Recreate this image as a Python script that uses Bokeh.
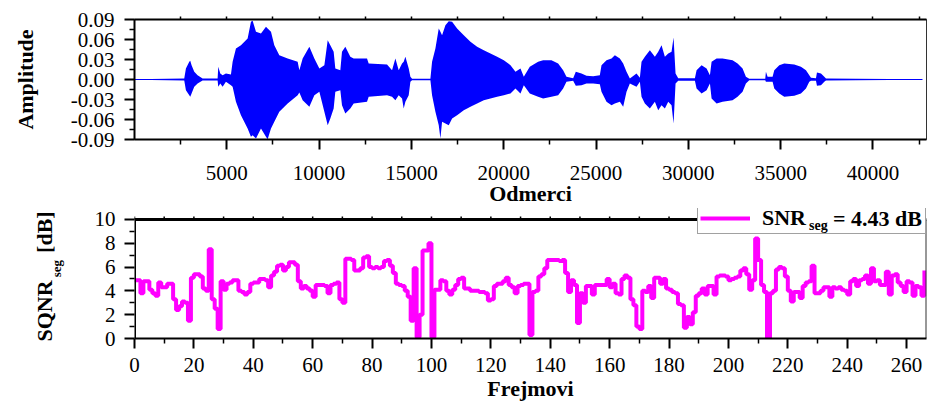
from bokeh.plotting import figure
from bokeh.layouts import column
from bokeh.models import (FixedTicker, LinearAxis, PrintfTickFormatter, Range1d,
                          Legend, LegendItem, ColumnDataSource, Title)
from bokeh.embed import file_html
from bokeh.resources import INLINE

FONT = "Liberation Serif"

# ---------------- data: speech waveform envelope (samples, amplitude) ----------------
env_samples = [0, 2695, 2785, 2966, 3020, 3092, 3237, 3417, 3688, 4502,
               4538, 4646, 4773, 4953, 5224, 5315, 5495, 5766, 6128, 6308,
               6399, 6580, 6851, 7122, 7212, 7393, 7573, 7844, 8296, 8838,
               8929, 9109, 9471, 9742, 10013, 10284, 10465, 10607, 10788, 10878,
               11149, 11239, 11420, 11691, 11872, 12595, 12685, 13679, 13950, 14131,
               14311, 14492, 14582, 14673, 14854, 14944, 15034, 16028, 16118, 16299,
               16480, 16570, 16660, 16841, 17022, 17203, 17474, 17835, 18197, 18558,
               18919, 19281, 19642, 20004, 20365, 20636, 20907, 21088, 21411, 21862,
               22134, 22585, 22947, 23218, 23398, 23760, 23904, 24212, 24483, 24844,
               25205, 25296, 25567, 25838, 26019, 26290, 26470, 26651, 26832, 27193,
               27374, 27464, 27645, 27916, 28187, 28368, 28548, 28729, 28910, 29090,
               29199, 29307, 29452, 30355, 30446, 30717, 30988, 31169, 31259, 31530,
               31853, 32395, 32666, 32937, 33118, 33299, 34166, 34202, 34292, 34563,
               34654, 34925, 35196, 35738, 36099, 36371, 36551, 36642, 36913, 36967,
               37184, 37364, 37455, 39081, 42677]
env_upper = [0.0005, 0.0015, 0.0165, 0.0265, 0.028, 0.0215, 0.0115, 0.0065, 0.0015, 0.0015,
             0.019, 0.009, 0.0065, 0.009, 0.0075, 0.0265, 0.0465, 0.0515, 0.0615, 0.0865,
             0.088, 0.0715, 0.069, 0.079, 0.0765, 0.0715, 0.0515, 0.0365, 0.0315, 0.0265,
             0.014, 0.0315, 0.049, 0.0315, 0.0165, 0.0215, 0.059, 0.0515, 0.0415, 0.0165,
             0.014, 0.0415, 0.049, 0.034, 0.0315, 0.0315, 0.024, 0.0225, 0.014, 0.0315,
             0.014, 0.024, 0.0265, 0.034, 0.0165, 0.004, 0.001, 0.001, 0.0265, 0.0465,
             0.0765, 0.0715, 0.0665, 0.0815, 0.0875, 0.0865, 0.0765, 0.0665, 0.0565, 0.049,
             0.044, 0.039, 0.034, 0.029, 0.0215, 0.0115, 0.0165, 0.004, 0.019, 0.0265,
             0.029, 0.029, 0.024, 0.014, 0.004, 0.002, 0.0115, 0.009, 0.0055, 0.005,
             0.0065, 0.0215, 0.029, 0.0315, 0.0365, 0.0315, 0.024, 0.0115, 0.0015, 0.009,
             0.0025, 0.0265, 0.034, 0.044, 0.034, 0.0415, 0.0515, 0.034, 0.039, 0.0415,
             0.063, 0.009, 0.002, 0.002, 0.014, 0.0215, 0.0165, 0.0065, 0.0265, 0.0315,
             0.0315, 0.029, 0.024, 0.0165, 0.004, 0.001, 0.001, 0.0115, 0.004, 0.004,
             0.014, 0.0215, 0.024, 0.0225, 0.019, 0.014, 0.0065, 0.0025, 0.002, 0.0105,
             0.009, 0.004, 0.0015, 0.001, 0.0005]
env_lower = [-0.0005, -0.0015, -0.016, -0.0235, -0.026, -0.021, -0.011, -0.006, -0.0015, -0.0015,
             -0.011, -0.006, -0.011, -0.0035, -0.0085, -0.011, -0.0335, -0.0535, -0.0735, -0.086,
             -0.0835, -0.0885, -0.0735, -0.086, -0.0895, -0.0735, -0.0635, -0.0485, -0.036, -0.0235,
             -0.0195, -0.031, -0.041, -0.0235, -0.0185, -0.0485, -0.0685, -0.0585, -0.0435, -0.0185,
             -0.016, -0.0385, -0.051, -0.0435, -0.036, -0.0335, -0.026, -0.0235, -0.026, -0.031,
             -0.0235, -0.0285, -0.0435, -0.0335, -0.0235, -0.0035, -0.001, -0.001, -0.0235, -0.0485,
             -0.0685, -0.0885, -0.0635, -0.066, -0.0685, -0.0585, -0.0535, -0.046, -0.041, -0.036,
             -0.031, -0.0285, -0.026, -0.0235, -0.021, -0.0135, -0.021, -0.0085, -0.021, -0.026,
             -0.0285, -0.026, -0.0235, -0.0135, -0.0035, -0.002, -0.0095, -0.0085, -0.006, -0.006,
             -0.007, -0.0185, -0.0335, -0.0385, -0.036, -0.0335, -0.041, -0.0185, -0.006, -0.011,
             -0.0035, -0.026, -0.036, -0.0435, -0.0335, -0.046, -0.0385, -0.0435, -0.0335, -0.0385,
             -0.066, -0.006, -0.002, -0.002, -0.0135, -0.021, -0.016, -0.006, -0.0285, -0.036,
             -0.0335, -0.031, -0.026, -0.0185, -0.006, -0.001, -0.001, -0.0035, -0.0035, -0.0035,
             -0.0135, -0.021, -0.026, -0.0245, -0.021, -0.0135, -0.0035, -0.002, -0.002, -0.0095,
             -0.0085, -0.0035, -0.0015, -0.001, -0.0005]

# ---------------- data: segmental SQNR per frame (dB) ----------------
sqnr_values = [4.9, 4.9, 3.8, 4.8, 4.8, 4.1, 3.8, 3.6, 4.7, 4.3,
               4.3, 4.6, 4.6, 3.3, 2.4, 2.7, 3.1, 3.0, 1.5, 5.1,
               5.4, 5.4, 5.2, 4.2, 4.0, 7.5, 3.3, 2.5, 0.8, 4.8,
               4.1, 4.6, 4.7, 4.9, 4.9, 4.0, 3.9, 3.7, 3.9, 4.6,
               4.7, 4.7, 5.0, 5.0, 4.9, 4.3, 5.3, 5.6, 6.1, 6.2,
               5.7, 6.0, 6.4, 6.4, 6.2, 4.8, 4.2, 4.4, 4.2, 4.0,
               3.5, 4.5, 4.5, 4.5, 4.4, 3.8, 4.5, 4.6, 4.7, 3.3,
               3.0, 6.7, 6.7, 6.6, 5.7, 5.7, 5.9, 6.8, 6.9, 6.0,
               5.9, 6.0, 5.9, 6.0, 6.5, 6.6, 6.1, 5.5, 4.6, 4.5,
               4.4, 4.0, 3.5, 1.5, 5.9, 0.1, 2.0, 7.4, 7.4, 8.0,
               0.1, 4.1, 4.1, 4.9, 4.8, 4.0, 3.7, 4.1, 4.5, 5.0,
               5.1, 4.2, 4.2, 4.0, 4.0, 4.0, 3.9, 3.9, 3.8, 3.2,
               3.3, 4.4, 4.6, 4.6, 4.8, 5.1, 4.5, 4.3, 3.8, 4.4,
               4.5, 4.6, 4.6, 0.3, 3.9, 4.0, 5.2, 5.4, 5.9, 6.6,
               6.6, 6.6, 6.6, 6.5, 6.6, 5.5, 3.9, 4.9, 4.5, 1.3,
               3.8, 3.0, 4.4, 4.4, 3.7, 4.5, 4.5, 4.5, 4.5, 5.0,
               4.3, 4.6, 3.8, 3.7, 5.0, 5.3, 5.1, 3.3, 2.8, 1.0,
               0.8, 4.0, 3.9, 4.4, 3.4, 5.1, 5.1, 4.6, 5.0, 4.2,
               4.1, 3.9, 3.8, 2.9, 2.8, 0.9, 1.8, 1.2, 2.2, 3.6,
               3.8, 4.2, 3.7, 4.4, 4.4, 3.7, 5.2, 5.3, 5.3, 5.2,
               4.9, 5.0, 5.1, 5.2, 5.7, 5.9, 5.4, 4.1, 4.9, 8.4,
               6.6, 4.5, 3.9, 0.0, 3.8, 4.0, 5.8, 6.0, 5.9, 5.2,
               4.0, 3.1, 3.9, 3.9, 3.4, 4.4, 4.7, 4.8, 6.1, 3.8,
               3.8, 4.0, 4.3, 4.3, 3.5, 4.3, 4.2, 4.3, 4.1, 4.0,
               3.7, 4.8, 5.0, 4.4, 4.9, 5.0, 5.3, 4.6, 5.9, 4.8,
               4.9, 4.5, 4.5, 5.6, 3.7, 5.3, 5.4, 4.7, 4.4, 3.9,
               4.8, 4.7, 3.6, 4.4, 4.3, 3.6, 5.7]
frames = list(range(len(sqnr_values)))

legend_main = "SNR"
legend_sub = "seg"
legend_rest = "= 4.43 dB"
NBSP = "\u00a0"

# ---------------- ticks ----------------
wave_x_ticks = [5000, 10000, 15000, 20000, 25000, 30000, 35000, 40000]
wave_x_minor = [2500, 7500, 12500, 17500, 22500, 27500, 32500, 37500, 42500]
wave_y_ticks = [-0.09, -0.06, -0.03, 0.0, 0.03, 0.06, 0.09]
wave_y_minor = [-0.075, -0.045, -0.015, 0.015, 0.045, 0.075]
snr_x_ticks = list(range(0, 261, 20))
snr_x_minor = list(range(10, 261, 20))
snr_y_ticks = [0, 2, 4, 6, 8, 10]
snr_y_minor = [1, 3, 5, 7, 9]


def style_axis(ax, ticks, minor, tick_out=10, minor_out=5, standoff=8):
    ax.ticker = FixedTicker(ticks=ticks, minor_ticks=minor)
    ax.axis_line_color = "black"
    ax.axis_line_width = 2
    ax.major_tick_line_color = "black"
    ax.major_tick_line_width = 2
    ax.minor_tick_line_color = "black"
    ax.minor_tick_line_width = 1.5
    ax.major_tick_in = 0
    ax.major_tick_out = tick_out
    ax.minor_tick_in = 0
    ax.minor_tick_out = minor_out
    ax.major_label_text_font = FONT
    ax.major_label_text_font_size = "21px"
    ax.major_label_text_color = "black"
    ax.major_label_standoff = standoff


def bold_axis_label(ax, text, size="22px", standoff=5):
    ax.axis_label = text
    ax.axis_label_text_font = FONT
    ax.axis_label_text_font_size = size
    ax.axis_label_text_font_style = "bold"
    ax.axis_label_text_color = "black"
    ax.axis_label_standoff = standoff


# ---------------- top: waveform ----------------
top = figure(width=927, height=208, x_range=Range1d(0, 42900), y_range=Range1d(-0.09, 0.09),
             output_backend="svg", toolbar_location=None,
             min_border_left=134, min_border_right=1, min_border_top=19, min_border_bottom=69)
top.grid.visible = False
top.outline_line_color = "#333333"
top.outline_line_width = 1
top.background_fill_color = "white"
top.border_fill_color = "white"

wave_src = ColumnDataSource(dict(x=env_samples, hi=env_upper, lo=env_lower))
top.varea(x="x", y1="lo", y2="hi", source=wave_src, fill_color="#0000FF", fill_alpha=1.0)
top.line(x=[env_samples[0], env_samples[-1]], y=[0.0, 0.0], line_color="#0000FF", line_width=1)

style_axis(top.xaxis[0], wave_x_ticks, wave_x_minor, standoff=16)
style_axis(top.yaxis[0], wave_y_ticks, wave_y_minor, standoff=10)
top.yaxis[0].formatter = PrintfTickFormatter(format="%.2f")
bold_axis_label(top.yaxis[0], "Amplitude", standoff=30)
bold_axis_label(top.xaxis[0], "Odmerci", standoff=-2)

top_ax = LinearAxis(ticker=FixedTicker(ticks=[], minor_ticks=sorted(wave_x_ticks + wave_x_minor)))
top_ax.axis_line_color = "black"
top_ax.axis_line_width = 2
top_ax.minor_tick_line_color = "black"
top_ax.minor_tick_line_width = 1.5
top_ax.minor_tick_in = 0
top_ax.minor_tick_out = 3
top_ax.major_tick_in = 0
top_ax.major_tick_out = 0
top.add_layout(top_ax, "above")

# ---------------- bottom: segmental SQNR ----------------
PX_PER_DB = 120 / 10          # 120 px for 0..10 dB
HEADROOM_PX = 11              # frame reaches above the plot box (legend lives there)
x_end = 266.7
y_box_top = snr_y_ticks[-1]
bot = figure(width=927, height=195, x_range=Range1d(0, x_end),
             y_range=Range1d(0, y_box_top + HEADROOM_PX / PX_PER_DB),
             output_backend="svg", toolbar_location=None,
             min_border_left=134, min_border_right=1, min_border_top=0, min_border_bottom=64)
bot.grid.visible = False
bot.outline_line_color = None
bot.background_fill_color = "white"
bot.border_fill_color = "white"

snr_src = ColumnDataSource(dict(f=frames, v=sqnr_values))
r = bot.step(x="f", y="v", source=snr_src, mode="after", line_color="#FF00FF", line_width=4)

# plot box (left & top borders, right border) and top tick marks
bot.line(x=[0, 0, x_end], y=[0, y_box_top, y_box_top], line_color="black", line_width=3)
bot.line(x=[x_end, x_end], y=[0, y_box_top], line_color="#333333", line_width=2)
all_top = sorted(snr_x_ticks + snr_x_minor)
bot.segment(x0=all_top, y0=[y_box_top] * len(all_top), x1=all_top,
            y1=[y_box_top + 3 / PX_PER_DB] * len(all_top), line_color="black", line_width=1.5)

style_axis(bot.xaxis[0], snr_x_ticks, snr_x_minor, standoff=9)
style_axis(bot.yaxis[0], snr_y_ticks, snr_y_minor, standoff=9)
bot.yaxis[0].axis_line_color = None
bold_axis_label(bot.xaxis[0], "Frejmovi", standoff=1)
bold_axis_label(bot.yaxis[0], NBSP * 3 + "seg", size="13px", standoff=28)

ylab = Title(text="SQNR" + NBSP * 5 + "[dB]", align="left", offset=-3, standoff=-22,
             vertical_align="bottom", text_font=FONT, text_font_size="22px",
             text_font_style="bold", text_color="black")
bot.add_layout(ylab, "left")

legend = Legend(items=[LegendItem(label=legend_main, renderers=[r])],
                location=(563, 104),
                glyph_width=50, glyph_height=20, label_standoff=12, label_width=161,
                label_height=23, padding=2, margin=0, spacing=0,
                border_line_color="#444444", border_line_width=1,
                background_fill_color="white", background_fill_alpha=1.0,
                label_text_font=FONT, label_text_font_size="22px",
                label_text_font_style="bold", label_text_color="black",
                label_text_baseline="alphabetic")
bot.add_layout(legend)


def text_only_legend(label, loc, size, height, width):
    # transparent legend (no glyph, no box) used to place more legend text on top
    return Legend(items=[LegendItem(label=label, renderers=[r])], location=loc,
                  glyph_width=0, glyph_height=height, label_standoff=0, label_width=width,
                  label_height=height, padding=0, margin=0, spacing=0,
                  border_line_color=None, background_fill_alpha=0.0,
                  label_text_font=FONT, label_text_font_size=size,
                  label_text_font_style="bold", label_text_color="black",
                  label_text_baseline="alphabetic")


bot.add_layout(text_only_legend(legend_sub, (675, 104), "14px", 14, 20))
bot.add_layout(text_only_legend(legend_rest, (699, 106), "22px", 23, 80))

layout = column(top, bot, spacing=0)
open("out.html", "w").write(file_html(layout, INLINE))
